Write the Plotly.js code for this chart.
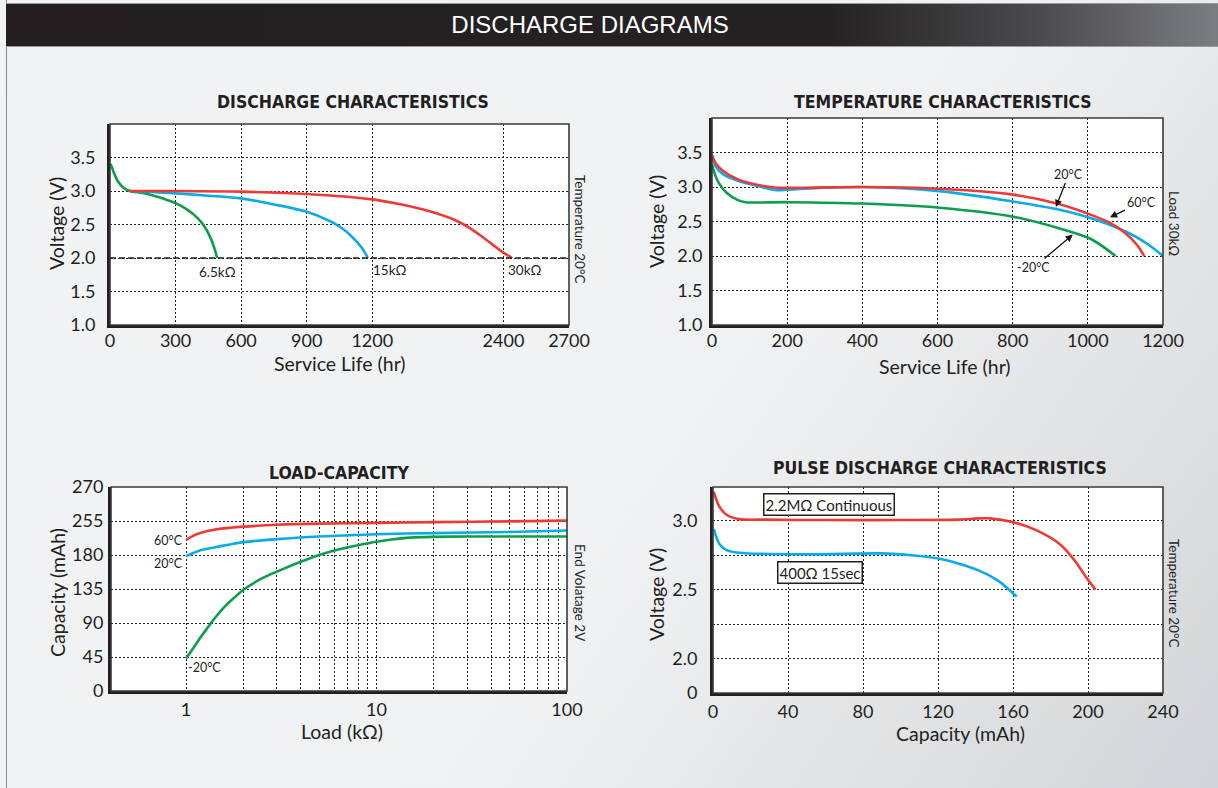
<!DOCTYPE html>
<html>
<head>
<meta charset="utf-8">
<script src="https://cdn.plot.ly/plotly-3.0.1.min.js"></script>
<style>
  html, body { margin:0; padding:0; width:1218px; height:788px; overflow:hidden; }
  body { background: linear-gradient(125deg, #f2f3f5 0%, #f0f1f3 58%, #d3d4d7 100%); position:relative; }
  #leftline { position:absolute; left:6px; top:0; width:1px; height:788px; background:#8a8a8c; }
  #header { position:absolute; left:6px; top:3px; width:1212px; height:44px;
            background: linear-gradient(to right, #231f20 0%, #252223 68%, #4a4a4c 85%, #7c7d81 100%);
            border-top:1px solid #9a9a9c; border-bottom:1px solid #9a9a9c; box-sizing:border-box;
            color:#fff; font-family:"Liberation Sans", Arial, sans-serif; font-size:24px;
            line-height:41px; }
  #header span { position:absolute; left:0; width:1168px; text-align:center; }
  #chart { position:absolute; left:0; top:0; width:1218px; height:788px; }
</style>
</head>
<body>
<div id="leftline"></div>
<div id="header"><span>DISCHARGE DIAGRAMS</span></div>
<div id="chart"></div>
<script>
// ---------------- DATA ----------------
// Discharge characteristics (hours, volts)
const dc_hours_65k = [0, 4, 18, 35, 62, 90, 150, 200, 250, 300, 350, 400, 430, 460, 480, 490];
const dc_volts_65k = [3.40, 3.39, 3.27, 3.15, 3.05, 3.00, 2.97, 2.93, 2.88, 2.82, 2.73, 2.60, 2.48, 2.30, 2.12, 2.00];
const dc_hours_15k = [90, 300, 450, 600, 750, 900, 1000, 1050, 1100, 1150, 1180];
const dc_volts_15k = [3.00, 2.965, 2.93, 2.89, 2.80, 2.69, 2.56, 2.47, 2.34, 2.16, 2.00];
const dc_hours_30k = [90, 300, 600, 900, 1200, 1400, 1600, 1800, 1950, 2100, 2212, 2300, 2400, 2440];
const dc_volts_30k = [3.00, 3.00, 2.99, 2.955, 2.875, 2.82, 2.75, 2.66, 2.57, 2.44, 2.31, 2.20, 2.08, 2.00];
const dc_labels = ['6.5kΩ', '15kΩ', '30kΩ'];
const dc_xticks = [0, 300, 600, 900, 1200, 2400, 2700];
const v_ticks = [1.0, 1.5, 2.0, 2.5, 3.0, 3.5];

// Temperature characteristics (hours, volts)
const tc_hours_60 = [0, 10, 28, 69, 141, 172, 250, 400, 605, 801, 925, 1007, 1059, 1100, 1131, 1150];
const tc_volts_60 = [3.46, 3.34, 3.24, 3.11, 3.01, 2.99, 2.99, 3.00, 2.975, 2.89, 2.75, 2.60, 2.48, 2.33, 2.16, 2.00];
const tc_hours_20 = [0, 10, 28, 69, 141, 172, 244, 400, 605, 801, 925, 1007, 1110, 1160, 1200];
const tc_volts_20 = [3.46, 3.30, 3.19, 3.09, 2.99, 2.955, 2.975, 3.00, 2.94, 2.79, 2.67, 2.55, 2.33, 2.17, 2.00];
const tc_hours_m20 = [0, 8, 18, 38, 69, 90, 203, 400, 605, 801, 925, 1007, 1074];
const tc_volts_m20 = [3.33, 3.18, 3.06, 2.92, 2.81, 2.78, 2.78, 2.76, 2.70, 2.57, 2.40, 2.25, 2.00];
const tc_labels = ['20°C', '60°C', '-20°C'];
const tc_xticks = [0, 200, 400, 600, 800, 1000, 1200];

// Load-capacity (kOhm, mAh)
const lc_load_60 = [1, 1.1, 1.2, 1.4, 1.7, 2, 3, 5, 10, 20, 50, 100];
const lc_cap_60  = [200, 206, 209.5, 213.5, 216, 217.5, 220, 221.5, 222.5, 223.5, 224.5, 225.5];
const lc_load_20 = [1, 1.1, 1.2, 1.4, 1.7, 2, 3, 5, 10, 20, 50, 104];
const lc_cap_20  = [178.5, 183, 186.5, 190, 194, 197, 201, 204.5, 207.5, 209, 210.5, 212.5];
const lc_load_m20 = [1, 1.1, 1.2, 1.3, 1.4, 1.6, 1.8, 2, 2.5, 3, 4, 5, 6, 7, 8, 10, 12, 15, 20, 30, 50, 100];
const lc_cap_m20  = [43, 58, 72, 84, 95, 112, 124, 134, 149, 158, 171, 180, 186, 190, 193, 197.5, 200.5, 203, 204, 204.5, 204.5, 204.5];
const lc_labels = ['60°C', '20°C', '-20°C'];
const lc_xticks = [1, 10, 100];
const lc_minor = [2, 3, 4, 5, 6, 7, 8, 9, 20, 30, 40, 50, 60, 70, 80, 90];
const lc_yticks = [0, 45, 90, 135, 180, 225, 270];
const lc_yticktext = ['0', '45', '90', '135', '180', '255', '270'];

// Pulse discharge (mAh, volts)
const pd_cap_cont = [0.4, 3.5, 7.6, 13.8, 28, 60, 100, 130, 141.6, 147.8, 160, 172.6, 185, 193, 199, 204];
const pd_v_cont   = [3.21, 3.10, 3.04, 3.012, 3.008, 3.005, 3.005, 3.008, 3.017, 3.017, 2.99, 2.93, 2.83, 2.71, 2.59, 2.50];
const pd_cap_pulse = [0.4, 3.5, 7.6, 13.8, 49, 90, 102.5, 121, 141.6, 152, 162];
const pd_v_pulse   = [2.94, 2.83, 2.785, 2.768, 2.756, 2.763, 2.754, 2.724, 2.64, 2.566, 2.45];
const pd_labels = ['2.2MΩ Continuous', '400Ω 15sec'];
const pd_xticks = [0, 40, 80, 120, 160, 200, 240];
const pd_yticks = [1.75, 2.0, 2.25, 2.5, 2.75, 3.0];
const pd_yticktext = ['0', '2.0', '', '2.5', '', '3.0'];

// ---------------- STYLE ----------------
const RED = '#ee3a35', BLUE = '#0aabea', GREEN = '#0c9e4b';
const INK = '#231f20';
const FONT = 'Lato, "Open Sans", sans-serif';
const TITLEFONT = '"Liberation Sans Narrow", "DejaVu Sans Condensed", sans-serif';
const W = 1218, H = 788;
const px = x => x / W, py = y => 1 - y / H;

// broken service-life axis: 0-1200 linear, 1200-2400 compressed, 2400-2700 linear
function lifeToAxis(h) {
  if (h <= 1200) return h / 300;
  if (h <= 2400) return 4 + (h - 1200) / 600;
  return 6 + (h - 2400) / 300;
}

function line(x, y, color, xa, ya) {
  return { x, y, xaxis: xa, yaxis: ya, type: 'scatter', mode: 'lines',
    line: { color, width: 2.6, shape: 'spline', smoothing: 0.8 }, hoverinfo: 'skip', showlegend: false,
    cliponaxis: false };
}

const traces = [
  line(dc_hours_65k.map(lifeToAxis), dc_volts_65k, GREEN, 'x', 'y'),
  line(dc_hours_15k.map(lifeToAxis), dc_volts_15k, BLUE, 'x', 'y'),
  line(dc_hours_30k.map(lifeToAxis), dc_volts_30k, RED, 'x', 'y'),
  line(tc_hours_m20, tc_volts_m20, GREEN, 'x2', 'y2'),
  line(tc_hours_20, tc_volts_20, BLUE, 'x2', 'y2'),
  line(tc_hours_60, tc_volts_60, RED, 'x2', 'y2'),
  line(lc_load_m20, lc_cap_m20, GREEN, 'x3', 'y3'),
  line(lc_load_20, lc_cap_20, BLUE, 'x3', 'y3'),
  line(lc_load_60, lc_cap_60, RED, 'x3', 'y3'),
  line(pd_cap_pulse, pd_v_pulse, BLUE, 'x4', 'y4'),
  line(pd_cap_cont, pd_v_cont, RED, 'x4', 'y4'),
];

const tickfont = { family: FONT, size: 18, color: INK };
const grid = { showgrid: true, gridcolor: INK, gridwidth: 1, griddash: '2px,2px', zeroline: false,
  showline: true, linecolor: INK, linewidth: 3, ticks: '', ticklen: 0, fixedrange: true, tickfont };

const layout = {
  width: W, height: H, margin: { l: 0, r: 0, t: 0, b: 0 },
  paper_bgcolor: 'rgba(0,0,0,0)', plot_bgcolor: '#ffffff',
  font: { family: FONT, color: INK },
  xaxis: Object.assign({}, grid, { domain: [px(110), px(569)], range: [0, 7], anchor: 'y',
    tickmode: 'array', tickvals: dc_xticks.map(lifeToAxis), ticktext: dc_xticks.map(String), ticklabelstandoff: -3 }),
  yaxis: Object.assign({}, grid, { domain: [py(325), py(124)], range: [1, 4], anchor: 'x',
    tickmode: 'array', tickvals: v_ticks, ticktext: v_ticks.map(v => v.toFixed(1)), ticklabelstandoff: 8 }),
  xaxis2: Object.assign({}, grid, { domain: [px(712), px(1163)], range: [0, 1200], anchor: 'y2',
    tickmode: 'array', tickvals: tc_xticks, ticktext: tc_xticks.map(String), ticklabelstandoff: -3 }),
  yaxis2: Object.assign({}, grid, { domain: [py(325), py(118)], range: [1, 4], anchor: 'x2',
    tickmode: 'array', tickvals: v_ticks, ticktext: v_ticks.map(v => v.toFixed(1)), ticklabelstandoff: 3 }),
  xaxis3: Object.assign({}, grid, { domain: [px(111), px(567)], type: 'log', range: [-0.394, 2], anchor: 'y3',
    tickmode: 'array', tickvals: lc_xticks, ticktext: lc_xticks.map(String), ticklabelstandoff: 0,
    minor: { tickmode: 'array', tickvals: lc_minor, showgrid: true, gridcolor: INK, gridwidth: 1, griddash: '2px,2px', ticks: '' } }),
  yaxis3: Object.assign({}, grid, { domain: [py(691), py(487)], range: [0, 270], anchor: 'x3',
    tickmode: 'array', tickvals: lc_yticks, ticktext: lc_yticktext, ticklabelstandoff: 1 }),
  xaxis4: Object.assign({}, grid, { domain: [px(713), px(1163)], range: [0, 240], anchor: 'y4',
    tickmode: 'array', tickvals: pd_xticks, ticktext: pd_xticks.map(String), ticklabelstandoff: 0 }),
  yaxis4: Object.assign({}, grid, { domain: [py(693), py(487)], range: [1.75, 3.245], anchor: 'x4',
    tickmode: 'array', tickvals: pd_yticks, ticktext: pd_yticktext, ticklabelstandoff: 9 }),
  shapes: [],
  annotations: []
};

// frames (top/right thinner)
['', '2', '3', '4'].forEach(s => {
  layout.shapes.push({ type: 'rect', xref: 'x' + s + ' domain', yref: 'y' + s + ' domain',
    x0: 0, x1: 1, y0: 0, y1: 1, line: { color: '#3a3a3a', width: 1.6 }, layer: 'above' });
});
// end-voltage reference line in plot 1
layout.shapes.push({ type: 'line', xref: 'x domain', yref: 'y', x0: 0, x1: 1, y0: 2.0, y1: 2.0,
  line: { color: INK, width: 1.3, dash: '6px,3px' }, layer: 'above' });

const A = layout.annotations;
function txt(text, x, y, opts) {
  A.push(Object.assign({ text, x: px(x), y: py(y), xref: 'paper', yref: 'paper', showarrow: false,
    xanchor: 'center', yanchor: 'middle', font: { family: FONT, size: 20, color: INK } }, opts || {}));
}
const titleFont = { family: TITLEFONT, size: 17.5, color: INK, weight: 'bold' };
txt('DISCHARGE CHARACTERISTICS', 353, 102, { font: titleFont });
txt('TEMPERATURE CHARACTERISTICS', 943, 102, { font: titleFont });
txt('LOAD-CAPACITY', 339, 473, { font: titleFont });
txt('PULSE DISCHARGE CHARACTERISTICS', 940, 468, { font: titleFont });

const axT = { family: FONT, size: 19.5, color: INK };
txt('Voltage (V)', 57, 224, { textangle: -90, font: axT });
txt('Service Life (hr)', 340, 364, { font: axT });
txt('Voltage (V)', 656, 222, { textangle: -90, font: axT });
txt('Service Life (hr)', 945, 366, { font: axT });
txt('Capacity (mAh)', 57, 593, { textangle: -90, font: axT });
txt('Load (kΩ)', 342, 731, { font: axT });
txt('Voltage (V)', 656, 595, { textangle: -90, font: axT });
txt('Capacity (mAh)', 960, 733, { font: axT });

const sideFont = { family: FONT, size: 13.5, color: INK };
txt('Temperature 20°C', 580, 229, { textangle: 90, font: sideFont });
txt('Load 30kΩ', 1174, 223, { textangle: 90, font: sideFont });
txt('End Volatage 2V', 580, 593, { textangle: 90, font: sideFont });
txt('Temperature 20°C', 1174, 593, { textangle: 90, font: sideFont });

// series end labels, plot 1
const small = { family: FONT, size: 13.5, color: INK };
const last = a => a[a.length - 1];
A.push({ text: dc_labels[0], xref: 'x', yref: 'y', x: lifeToAxis(last(dc_hours_65k)), y: last(dc_volts_65k),
  showarrow: false, xanchor: 'center', yanchor: 'top', yshift: -4, font: small });
A.push({ text: dc_labels[1], xref: 'x', yref: 'y', x: lifeToAxis(last(dc_hours_15k)), y: last(dc_volts_15k),
  showarrow: false, xanchor: 'left', yanchor: 'top', xshift: 3, yshift: -2, font: small });
A.push({ text: dc_labels[2], xref: 'x', yref: 'y', x: lifeToAxis(last(dc_hours_30k)), y: last(dc_volts_30k),
  showarrow: false, xanchor: 'left', yanchor: 'top', xshift: -6, yshift: -2, font: small });

// arrows, plot 2
const arrowFont = { family: FONT, size: 12.5, color: INK };
function arrow(text, x, y, ax, ay) {
  A.push({ text, xref: 'x2', yref: 'y2', x, y, ax, ay, showarrow: true, arrowhead: 2, arrowsize: 1.1,
    arrowwidth: 1.3, arrowcolor: '#111', standoff: 0, font: arrowFont });
}
arrow(tc_labels[0], 915, 2.71, 13, -33);
arrow(tc_labels[1], 1059, 2.56, 31, -15);
arrow(tc_labels[2], 960, 2.31, -39, 33);

// labels, plot 3
A.push({ text: lc_labels[0], xref: 'x3', yref: 'y3', x: 0, y: lc_cap_60[0], showarrow: false,
  xanchor: 'right', yanchor: 'middle', xshift: -1, yshift: -1, font: arrowFont });
A.push({ text: lc_labels[1], xref: 'x3', yref: 'y3', x: 0, y: lc_cap_20[0], showarrow: false,
  xanchor: 'right', yanchor: 'middle', xshift: -1, yshift: -7, font: arrowFont });
A.push({ text: lc_labels[2], xref: 'x3', yref: 'y3', x: 0, y: lc_cap_m20[0], showarrow: false,
  xanchor: 'left', yanchor: 'middle', xshift: 0, yshift: -9, font: arrowFont });

// boxed labels, plot 4
const boxFont = { family: FONT, size: 15, color: INK };
A.push({ text: pd_labels[0], xref: 'x4', yref: 'y4', x: 61.9, y: 3.115, showarrow: false,
  bgcolor: '#ffffff', bordercolor: INK, borderwidth: 1.5, borderpad: 1, font: boxFont });
A.push({ text: pd_labels[1], xref: 'x4', yref: 'y4', x: 57, y: 2.625, showarrow: false,
  bgcolor: '#ffffff', bordercolor: INK, borderwidth: 1.5, borderpad: 1, font: boxFont });

Plotly.newPlot('chart', traces, layout, { staticPlot: true, displayModeBar: false });
</script>
</body>
</html>
